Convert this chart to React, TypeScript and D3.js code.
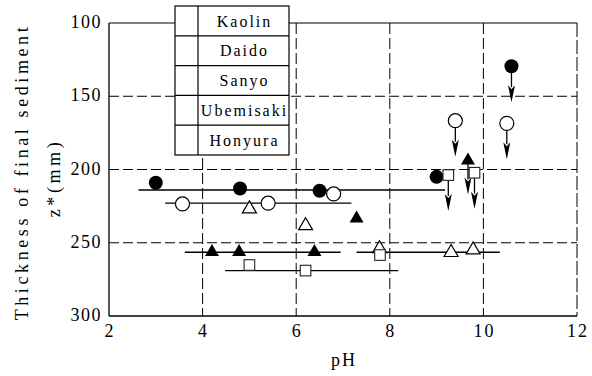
import React from "react";
import * as d3 from "d3";

// Axis ticks
const PH_TICKS = [2, 4, 6, 8, 10, 12];
const Z_TICKS = [100, 150, 200, 250, 300];

// Legend entries (top to bottom)
const SERIES_NAMES = ["Kaolin", "Daido", "Sanyo", "Ubemisaki", "Honyura"];

// Kaolin: filled circles
const kaolinPH = [3.0, 4.8, 6.5, 9.0, 10.6];
const kaolinZ = [209, 213, 214.5, 205, 129.5];
const kaolinArrow = [false, false, false, false, true];

// Daido: open circles
const daidoPH = [3.57, 5.4, 6.8, 9.4, 10.5];
const daidoZ = [223.5, 223, 216.7, 166.7, 168.5];
const daidoArrow = [false, false, false, true, true];

// Sanyo: open triangles
const sanyoPH = [5.0, 6.2, 7.78, 9.31, 9.78];
const sanyoZ = [225.5, 237, 252.7, 255.3, 253.5];
const sanyoArrow = [false, false, false, false, false];

// Ubemisaki: filled triangles
const ubemisakiPH = [4.2, 4.78, 6.39, 7.29, 9.67];
const ubemisakiZ = [255, 255, 255, 232, 192.5];
const ubemisakiArrow = [false, false, false, false, true];

// Honyura: open squares
const honyuraPH = [5.0, 6.2, 7.79, 9.25, 9.81];
const honyuraZ = [265.2, 269, 258.4, 203.8, 202.2];
const honyuraArrow = [false, false, false, true, true];

// Horizontal pH-range bars
const rangeFrom = [2.63, 3.2, 3.62, 7.29, 4.48];
const rangeTo = [9.18, 7.18, 6.95, 10.35, 8.18];
const rangeZ = [214, 223, 256.5, 256.5, 269];

type Kind = "fcircle" | "ocircle" | "otri" | "ftri" | "osquare";

const series: { kind: Kind; ph: number[]; z: number[]; arrow: boolean[] }[] = [
  { kind: "fcircle", ph: kaolinPH, z: kaolinZ, arrow: kaolinArrow },
  { kind: "ocircle", ph: daidoPH, z: daidoZ, arrow: daidoArrow },
  { kind: "otri", ph: sanyoPH, z: sanyoZ, arrow: sanyoArrow },
  { kind: "ftri", ph: ubemisakiPH, z: ubemisakiZ, arrow: ubemisakiArrow },
  { kind: "osquare", ph: honyuraPH, z: honyuraZ, arrow: honyuraArrow },
];

const FONT = "Liberation Serif, Times New Roman, DejaVu Serif, serif";
const txt = { fontFamily: FONT };

export default function App() {
  const W = 592;
  const H = 376;
  const x = d3.scaleLinear().domain([2, 12]).range([109, 577]);
  const y = d3.scaleLinear().domain([100, 300]).range([23, 316]);
  const x0 = x(2), x1 = x(12), y0 = y(100), y1 = y(300);

  const marker = (kind: Kind, cx: number, cy: number, key: string) => {
    switch (kind) {
      case "fcircle":
        return <circle key={key} cx={cx} cy={cy} r={7} fill="#000" />;
      case "ocircle":
        return <circle key={key} cx={cx} cy={cy} r={7} fill="#fff" stroke="#000" strokeWidth={1.2} />;
      case "otri":
      case "ftri": {
        const hw = 7, hh = 6;
        const d = `M${cx},${cy - hh}L${cx + hw},${cy + hh}L${cx - hw},${cy + hh}Z`;
        return kind === "ftri" ? (
          <path key={key} d={d} fill="#000" />
        ) : (
          <path key={key} d={d} fill="#fff" stroke="#000" strokeWidth={1.2} />
        );
      }
      case "osquare":
        return (
          <rect key={key} x={cx - 5.3} y={cy - 5.3} width={10.6} height={10.6}
            fill="#fff" stroke="#222" strokeWidth={1.1} />
        );
    }
  };

  const arrow = (cx: number, cy: number, key: string) => {
    const len = 36, headLen = 17, hw = 3.5;
    const tip = cy + len;
    return (
      <g key={key}>
        <line x1={cx} y1={cy} x2={cx} y2={tip - headLen + 2} stroke="#000" strokeWidth={1.3} />
        <path d={`M${cx},${tip}L${cx - hw},${tip - headLen}L${cx},${tip - headLen + 4}L${cx + hw},${tip - headLen}Z`} fill="#000" />
      </g>
    );
  };

  // Legend geometry
  const lgX = 175, lgMid = 198, lgR = 289, lgTop = 6, rowH = 29.8;

  return (
    <svg width={W} height={H} style={{ position: "fixed", left: 0, top: 0, background: "#fff" }}>
      <rect width={W} height={H} fill="#fff" />

      {/* dashed grid */}
      {PH_TICKS.slice(1, -1).map((t) => (
        <line key={"gx" + t} x1={x(t)} x2={x(t)} y1={y0} y2={y1} stroke="#000" strokeWidth={1} strokeDasharray="11,4" />
      ))}
      {Z_TICKS.slice(1, -1).map((t) => (
        <line key={"gy" + t} x1={x0} x2={x1} y1={y(t)} y2={y(t)} stroke="#000" strokeWidth={1} strokeDasharray="10,4" />
      ))}

      {/* frame */}
      <line x1={x0} x2={x1} y1={y0} y2={y0} stroke="#000" strokeWidth={1.2} />
      <line x1={x1} x2={x1} y1={y0} y2={y1} stroke="#000" strokeWidth={1} strokeDasharray="14,3" />
      <line x1={x0} x2={x0} y1={y0} y2={y1} stroke="#000" strokeWidth={1.3} />
      <line x1={x0} x2={x1} y1={y1} y2={y1} stroke="#000" strokeWidth={1.3} />

      {/* pH range bars */}
      {rangeZ.map((z, i) => (
        <line key={"r" + i} x1={x(rangeFrom[i])} x2={x(rangeTo[i])} y1={y(z)} y2={y(z)} stroke="#000" strokeWidth={1.3} />
      ))}

      {/* arrows */}
      {series.map((s, si) =>
        s.ph.map((p, i) => (s.arrow[i] ? arrow(x(p), y(s.z[i]), `a${si}-${i}`) : null))
      )}

      {/* markers */}
      {series.map((s, si) => s.ph.map((p, i) => marker(s.kind, x(p), y(s.z[i]), `m${si}-${i}`)))}

      {/* axis tick labels */}
      {PH_TICKS.map((t) => (
        <text key={"tx" + t} style={txt} x={x(t) + 1} y={337} textAnchor="middle" fontSize={18} letterSpacing={2}>{t}</text>
      ))}
      {Z_TICKS.map((t) => (
        <text key={"ty" + t} style={txt} x={102} y={y(t) + 5} textAnchor="end" fontSize={18} letterSpacing={1.5}>{t}</text>
      ))}

      {/* axis titles */}
      <text style={txt} x={344} y={366} textAnchor="middle" fontSize={18} letterSpacing={2}>pH</text>
      <text style={txt} transform={`translate(28,172) rotate(-90)`} textAnchor="middle" fontSize={18} letterSpacing={3.6}>
        Thickness of final sediment
      </text>
      <text style={txt} transform={`translate(60,178) rotate(-90)`} textAnchor="middle" fontSize={18} letterSpacing={3.6}>
        z*(mm)
      </text>

      {/* legend */}
      <rect x={lgX} y={lgTop} width={lgR - lgX} height={rowH * SERIES_NAMES.length} fill="#fff" stroke="#000" strokeWidth={1.2} />
      <line x1={lgMid} x2={lgMid} y1={lgTop} y2={lgTop + rowH * SERIES_NAMES.length} stroke="#000" strokeWidth={1.2} />
      {SERIES_NAMES.map((n, i) => (
        <g key={"lg" + n}>
          {i > 0 && <line x1={lgX} x2={lgR} y1={lgTop + rowH * i} y2={lgTop + rowH * i} stroke="#000" strokeWidth={1.2} />}
          <text style={txt} x={(lgMid + lgR) / 2 + 1} y={lgTop + rowH * i + 20.5} textAnchor="middle" fontSize={16} letterSpacing={2}>
            {n}
          </text>
        </g>
      ))}
    </svg>
  );
}
